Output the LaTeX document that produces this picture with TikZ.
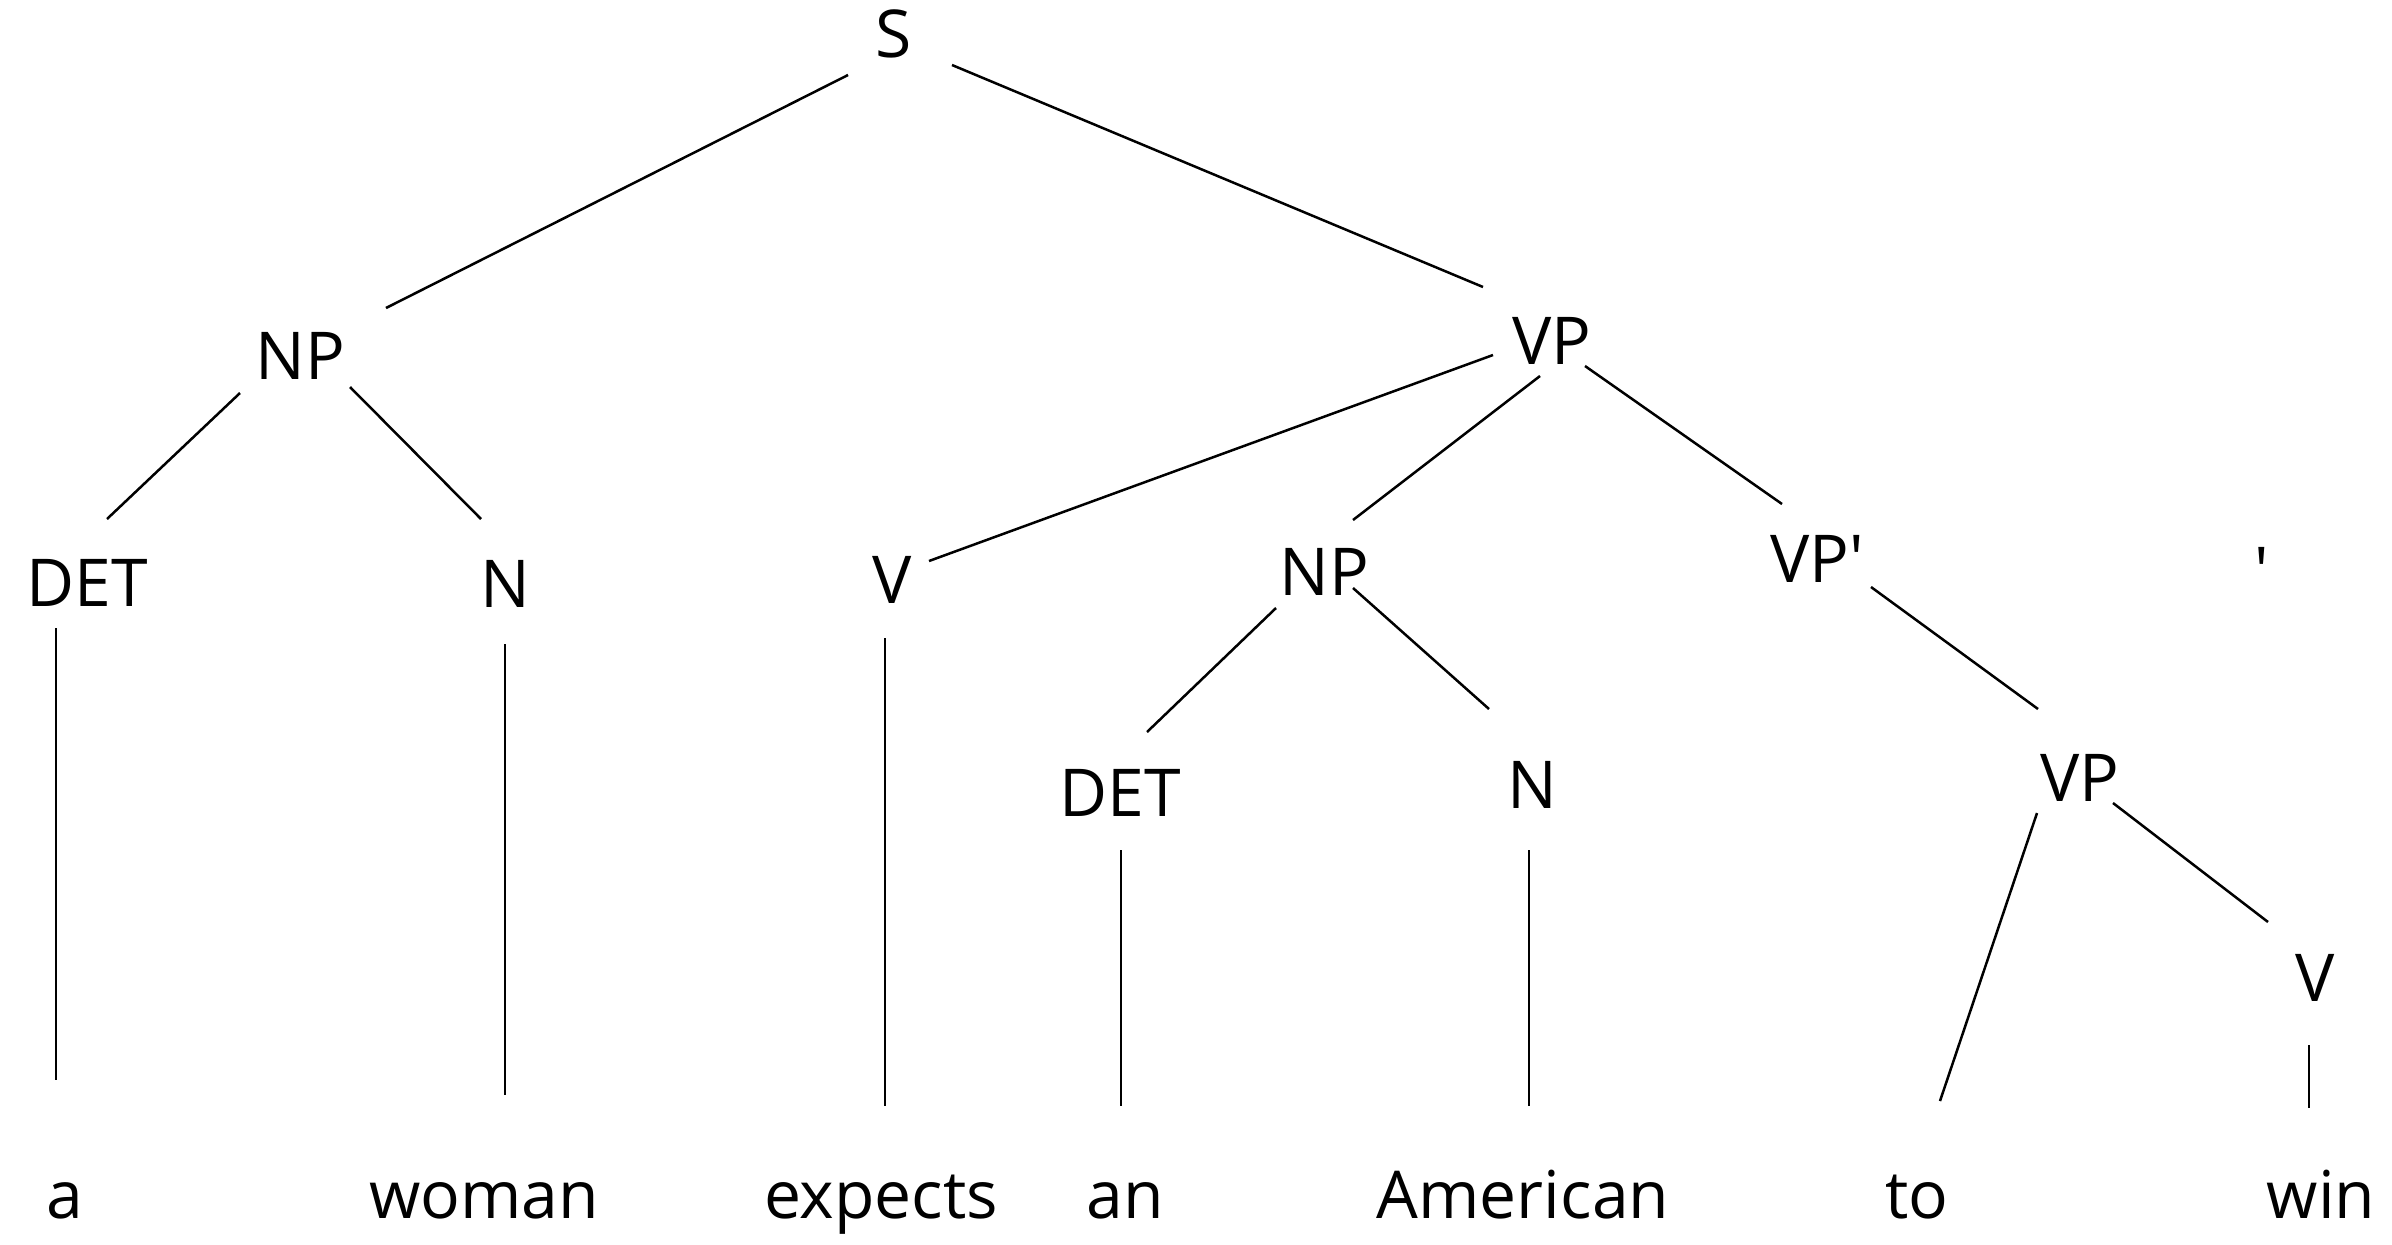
\documentclass[tikz,border=0pt]{standalone}
\usepackage{fontspec}
\newfontfamily\lf{Open Sans}
\usetikzlibrary{calc}
\begin{document}
\begin{tikzpicture}[x=0.5pt,y=-0.5pt,
  lab/.style={font=\lf\fontsize{33}{40}\selectfont, inner sep=0pt},
  word/.style={lab, anchor=base},
  edge/.style={line width=1.25pt, draw=black}]
\useasboundingbox (0,0) rectangle (2392,1244);
% category labels
\node[lab] (S) at (894,34) {S};
\node[lab] (NPa) at (300,356) {NP};
\node[lab] (VPa) at (1552,341) {VP};
\node[lab] (DETa) at (87,583) {DET};
\node[lab] (Na) at (505,584) {N};
\node[lab] (Va) at (892,580) {V};
\node[lab] (NPb) at (1324,572) {NP};
\node[lab] (VPp) at (1817,559) {VP'};
\node[lab] (DETb) at (1120,793) {DET};
\node[lab] (Nb) at (1532,785) {N};
\node[lab] (VPb) at (2080,778) {VP};
\node[lab] (Vb) at (2315,978) {V};
\node[lab] (tick) at (2262,571) {'};
% words
\node[word] (wa) at (65,1218) {a};
\node[word] (wwoman) at (484,1218) {woman};
\node[word] (wexpects) at (881,1218) {expects};
\node[word] (wan) at (1125,1218) {an};
\node[word] (wamerican) at (1523,1218) {American};
\node[word] (wto) at (1917,1218) {to};
\node[word] (wwin) at (2321,1218) {win};
% connectors
\draw[edge] ($(S)+(-46,41)$) -- ($(NPa)+(86,-48)$);
\draw[edge] ($(S)+(58,31)$) -- ($(VPa)+(-69,-54)$);
\draw[edge] ($(NPa)+(-60,37)$) -- ($(DETa)+(20,-64)$);
\draw[edge] ($(NPa)+(50,31)$) -- ($(Na)+(-24,-65)$);
\draw[edge] ($(VPa)+(-59,14)$) -- ($(Va)+(37,-19)$);
\draw[edge] ($(VPa)+(-12,35)$) -- ($(NPb)+(29,-52)$);
\draw[edge] ($(VPa)+(33,25)$) -- ($(VPp)+(-35,-55)$);
\draw[edge] ($(NPb)+(-48,36)$) -- ($(DETb)+(27,-61)$);
\draw[edge] ($(NPb)+(29,16)$) -- ($(Nb)+(-43,-76)$);
\draw[edge] ($(VPp)+(54,28)$) -- ($(VPb)+(-42,-69)$);
\draw[edge] ($(VPb)+(-43,35)$) -- ($(wto.base)+(23,-117)$);
\draw[edge] ($(VPb)+(33,25)$) -- ($(Vb)+(-47,-56)$);
\draw[edge] ($(DETa)+(-31,45)$) -- ($(wa.base)+(-9,-138)$);
\draw[edge] ($(Na)+(0,60)$) -- ($(wwoman.base)+(21,-123)$);
\draw[edge] ($(Va)+(-7,58)$) -- ($(wexpects.base)+(4,-112)$);
\draw[edge] ($(DETb)+(1,57)$) -- ($(wan.base)+(-4,-112)$);
\draw[edge] ($(Nb)+(-3,65)$) -- ($(wamerican.base)+(6,-112)$);
\draw[edge] ($(Vb)+(-6,67)$) -- ($(wwin.base)+(-12,-110)$);
\end{tikzpicture}
\end{document}
